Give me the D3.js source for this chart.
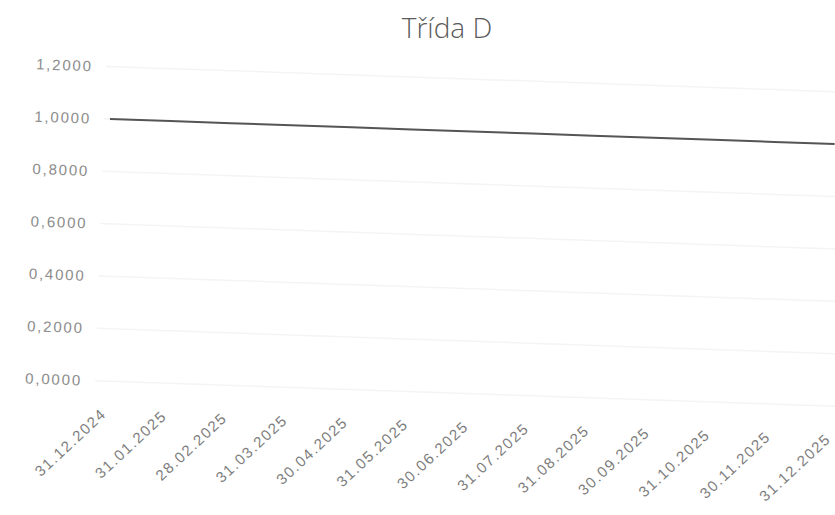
<!DOCTYPE html>
<html>
<head>
<meta charset="utf-8">
<script src="https://cdn.jsdelivr.net/npm/d3@7"></script>
<style>
  body { margin: 0; background: #fff; }
  svg { font-family: "Open Sans", "Noto Sans", sans-serif; }
</style>
</head>
<body>
<div id="chart"></div>
<script>
// chart data
let dates = ["31.12.2024", "31.01.2025", "28.02.2025", "31.03.2025", "30.04.2025",
  "31.05.2025", "30.06.2025", "31.07.2025", "31.08.2025", "30.09.2025",
  "31.10.2025", "30.11.2025", "31.12.2025"];
let values = [1.0000, 1.0000, 1.0000, 1.0000, 1.0000, 1.0000, 1.0000,
  1.0000, 1.0000, 1.0000, 1.0000, 1.0000, 1.0000];
let yTicks = [0, 0.2, 0.4, 0.6, 0.8, 1.0, 1.2];
let title = "Třída D";

let width = 835, height = 515;

let svg = d3.select("#chart")
  .append("svg")
  .attr("width", width)
  .attr("height", height);

// the reference is a slightly tilted scan, so the plot is turned by ~2deg
let g = svg.append("g")
  .attr("transform", "rotate(1.98,110,119)");

let x = d3.scalePoint()
  .domain(dates)
  .range([110, 835]);

let y = d3.scaleLinear()
  .domain([0, 1.2])
  .range([381, 66.6]);

let fmt = function(d) { return d3.format(".4f")(d).replace(".", ","); };

// gridlines (very faint in the scan)
g.append("g")
  .selectAll("line")
  .data(yTicks)
  .enter()
  .append("line")
  .attr("x1", 104)
  .attr("x2", 880)
  .attr("y1", function(d) { return y(d); })
  .attr("y2", function(d) { return y(d); })
  .attr("stroke", "#f4f4f4")
  .attr("stroke-width", 1.5);

// y axis labels
let yAxis = g.append("g")
  .attr("transform", "translate(91,0)")
  .call(d3.axisLeft(y).tickValues(yTicks).tickFormat(fmt).tickSize(0).tickPadding(0));
yAxis.select(".domain").remove();
yAxis.selectAll("text")
  .attr("fill", "#8c8c8c")
  .style("font-size", "15px")
  .style("letter-spacing", "1.8px");

// x axis labels
let xAxis = g.append("g")
  .attr("transform", "translate(0,415)")
  .call(d3.axisBottom(x).tickSize(0).tickPadding(0));
xAxis.select(".domain").remove();
xAxis.selectAll("text")
  .attr("fill", "#7c7c7c")
  .style("font-size", "15px")
  .style("letter-spacing", "1.6px")
  .attr("text-anchor", "end")
  .attr("y", 0)
  .attr("dy", 0)
  .attr("transform", "translate(7,0) rotate(-45)");

// line
let line = d3.line()
  .x(function(d, i) { return x(dates[i]); })
  .y(function(d) { return y(d); });

g.append("path")
  .datum(values)
  .attr("d", line)
  .attr("fill", "none")
  .attr("stroke", "#555555")
  .attr("stroke-width", 2);

// title
svg.append("text")
  .attr("x", 447)
  .attr("y", 38)
  .attr("text-anchor", "middle")
  .attr("fill", "#5a5a5a")
  .style("font-size", "28px")
  .style("font-weight", 300)
  .text(title);
</script>
</body>
</html>
